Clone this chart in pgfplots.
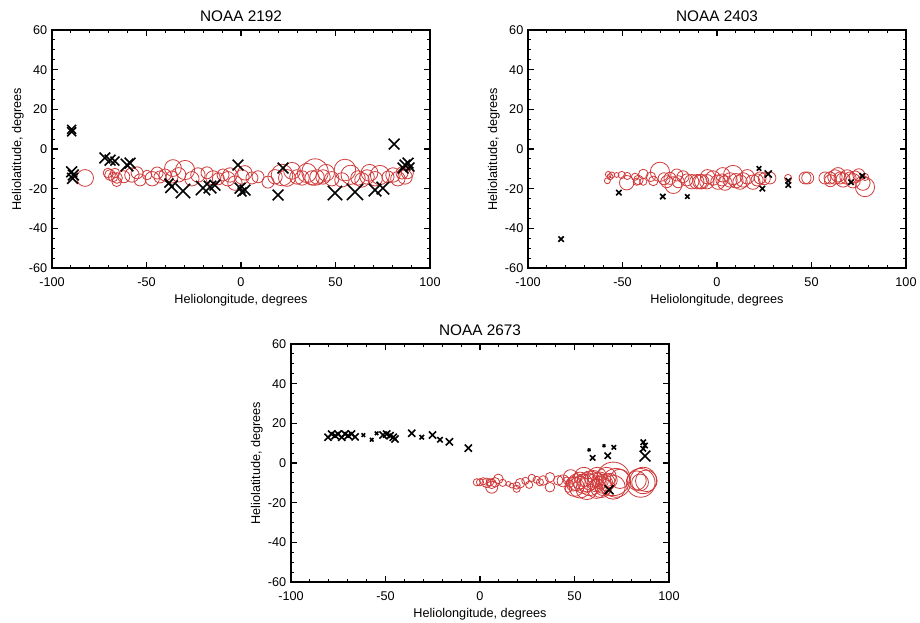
\documentclass[border=0pt]{standalone}
\usepackage{pgfplots}
\pgfplotsset{compat=1.18}
\usepackage{pgfplotstable}
\usepackage{fontspec}
\setmainfont{Liberation Sans}
\definecolor{circred}{RGB}{208,58,58}

% columns: heliolongitude, heliolatitude, marker half-size in px
\pgfplotstableread{
x y r
-82.5 -14.6 7
-69.3 -13.1 4.5
-67.7 -14.1 4
-65.6 -14.6 4.5
-66.7 -12.1 4
-70.4 -12.1 4
-65.8 -16.5 4
-62.0 -14.0 5
-57.7 -13.1 6
-55.0 -12.0 5
-53.4 -15.6 5
-49.7 -13.1 4
-47.0 -15.0 6
-44.4 -12.1 5
-42.9 -14.1 5
-40.2 -13.1 5
-36.0 -9.6 7
-29.6 -10.6 8
-36.5 -14.1 5
-33.0 -13.0 6
-26.0 -15.0 6
-22.8 -13.1 6
-18.0 -12.0 5
-14.8 -14.6 6
-12.0 -15.0 5
-9.5 -13.1 5
-7.0 -15.0 6
-5.8 -13.1 6
-3.2 -17.2 6
0.5 -14.1 6
2.0 -12.0 6
5.8 -14.6 5
9.0 -14.0 5
14.3 -16.7 5
18.0 -14.0 6
21.7 -13.1 9
24.3 -14.6 7
27.0 -11.0 7
29.6 -14.1 6
32.3 -14.6 6
34.9 -12.1 8
37.6 -14.6 6
39.2 -11.6 11
40.2 -14.1 6
43.4 -14.1 6
45.0 -12.0 7
48.0 -15.0 6
53.4 -15.6 6
55.0 -10.6 9
58.0 -13.0 8
61.9 -14.6 6
64.0 -15.6 6
66.7 -14.1 6
68.0 -12.0 7
71.0 -15.0 6
73.5 -13.1 8
77.8 -14.1 5
80.4 -13.1 6
83.0 -15.0 6
85.2 -12.1 5
86.8 -14.1 6
88.0 -12.0 5
}\circA
\pgfplotstableread{
x y r
-89.6 8.7 5
-89.6 9.9 5
-89.6 -11.5 6
-88.7 -13.1 6
-89.1 -14.8 6
-72.0 -4.5 6
-69.3 -5.6 6
-66.7 -6.1 5
-60.3 -8.1 7
-58.7 -7.1 6
-38.1 -17.2 5
-36.7 -19.0 7
-30.7 -21.2 8
-20.1 -19.7 8
-16.4 -19.2 7
-13.8 -18.2 6
-1.6 -8.1 6
-0.5 -19.7 6
2.1 -20.7 6
0.5 -21.7 5
22.2 -9.6 6
19.6 -23.2 6
49.7 -22.2 8
60.3 -21.7 9
70.9 -20.7 7
75.1 -19.7 7
81.0 2.5 6
86.8 -8.1 6
85.7 -9.6 6
88.4 -7.1 6
89.4 -9.1 5
}\crossA
\pgfplotstableread{
x y r
-57.5 -12.8 2.5
-56.6 -14.0 2.5
-55.7 -13.1 2.5
-58.0 -16.0 2.5
-53.1 -13.1 2
-50.4 -13.1 3
-47.5 -13.6 3
-43.4 -14.0 3
-41.6 -15.6 4
-42.5 -16.5 3
-47.8 -17.0 6
-39.0 -12.6 4
-39.0 -16.5 3
-35.0 -14.0 4
-33.7 -16.1 4
-30.2 -11.5 8
-28.0 -15.0 5
-26.6 -16.5 5
-24.9 -14.8 5
-21.3 -13.1 5
-20.5 -16.5 5
-23.1 -18.2 7
-18.0 -14.0 5
-16.0 -15.6 5
-13.4 -16.5 6
-10.7 -16.5 6
-9.0 -16.5 6
-8.1 -16.5 6
-5.4 -16.5 6
-5.0 -14.0 6
-2.1 -14.6 6
0.5 -16.7 6
2.6 -15.6 5
3.0 -13.0 6
4.2 -17.2 6
6.9 -15.6 6
8.5 -13.1 8
10.0 -16.0 6
12.2 -16.7 6
13.8 -15.6 6
16.0 -14.0 6
19.0 -16.7 6
21.2 -15.6 5
22.8 -14.6 5
25.0 -15.0 5
28.0 -14.6 5
37.6 -14.6 3
46.6 -14.6 5
48.0 -14.6 5
57.1 -14.6 5
59.8 -14.6 5
60.0 -16.0 5
62.4 -14.1 6
64.0 -13.0 6
65.1 -14.6 5
66.7 -15.6 6
68.8 -14.1 6
70.4 -14.6 5
72.0 -16.0 6
73.0 -14.1 5
75.0 -13.0 5
78.3 -14.1 3
78.3 -19.2 8
77.2 -17.2 6
}\circB
\pgfplotstableread{
x y r
-82.5 -45.4 3
-51.9 -22.0 3
-28.7 -24.0 3
-15.7 -24.0 2.5
22.2 -9.8 2.5
27.1 -12.6 4
24.0 -20.0 3
37.7 -16.0 3
37.7 -18.2 3
70.9 -16.8 3
76.9 -13.6 3
}\crossB
\pgfplotstableread{
x y r
-1.7 -9.7 3
0.0 -9.7 3
1.7 -9.2 3
3.5 -10.0 4
5.3 -9.7 3
6.2 -10.5 4
7.9 -9.7 4
9.7 -8.0 4
6.2 -12.2 5
12.0 -10.0 3
15.0 -10.5 2
16.8 -11.4 2
19.4 -11.4 3
21.2 -10.2 4
19.4 -13.0 3
24.0 -9.0 3
26.0 -11.0 3
27.4 -7.5 3
30.0 -8.5 3
31.7 -9.7 3
33.5 -8.8 4
37.0 -7.2 4
37.0 -12.2 4
41.4 -8.8 4
44.0 -9.0 5
45.9 -8.8 3
47.6 -10.5 3
48.0 -7.0 6
46.7 -13.0 3
49.4 -10.5 6
50.0 -12.0 8
51.2 -9.7 7
52.9 -8.8 7
54.7 -10.5 8
55.0 -7.0 8
56.5 -9.7 8
58.0 -11.0 9
58.2 -8.8 8
60.0 -8.0 7
61.7 -9.7 8
62.0 -7.0 8
63.5 -8.8 7
64.0 -12.0 9
65.2 -10.5 8
67.0 -9.7 7
67.0 -7.0 8
68.8 -8.8 6
52.9 -12.2 9
56.5 -13.0 9
61.7 -13.0 8
65.2 -12.2 7
70.5 -8.0 14
70.5 -12.2 10
72.0 -10.0 12
74.0 -8.0 8
82.9 -8.8 8
84.7 -9.8 7
85.0 -10.0 12
86.4 -8.8 11
88.0 -9.0 9
}\circC
\pgfplotstableread{
x y r
-80.4 13.0 4
-78.5 14.6 4
-76.7 13.8 4
-75.1 14.6 4
-73.2 13.0 4
-71.4 14.6 4
-69.8 13.8 4
-68.0 14.6 4
-66.1 13.2 4
-61.7 14.1 2
-57.3 11.7 2
-54.7 15.0 2
-51.3 14.1 4
-49.4 14.6 4
-47.6 13.8 4
-45.9 13.0 4
-45.0 12.1 4
-36.1 15.0 4
-30.8 13.0 2.5
-25.1 14.1 4
-21.2 11.7 3
-16.2 10.7 4
-6.2 7.5 4
57.7 6.6 1.5
59.6 2.6 3
65.6 8.7 1.5
67.6 3.7 3.5
70.8 7.9 2.5
86.4 10.5 3
87.3 8.8 3
86.4 7.2 3
87.3 3.5 6
68.3 -13.5 5
}\crossC

\pgfplotsset{
  noaa/.style={
    scale only axis, width=283.5pt, height=178.5pt,
    xmin=-100, xmax=100, ymin=-60, ymax=60,
    xtick={-100,-50,0,50,100}, xticklabels={-100,-50,0,50,100},
    ytick={-60,-40,-20,0,20,40,60}, yticklabels={-60,-40,-20,0,20,40,60},
    minor x tick num=4, minor y tick num=3,
    tick align=inside,
    major tick length=4.5pt, minor tick length=2.6pt,
    every tick/.style={black, line width=0.8pt},
    axis line style={line width=0.9pt},
    tick label style={font=\fontsize{9.5}{11}\selectfont},
    xticklabel style={yshift=-3.5pt},
    label style={font=\fontsize{9.5}{11}\selectfont},
    title style={font=\fontsize{11.5}{13}\selectfont, yshift=-3pt},
    xlabel={Heliolongitude, degrees},
    ylabel={Heliolatitude, degrees},
    xlabel style={yshift=1pt},
    ylabel style={yshift=-3pt},
    clip=false,
  },
  circs/.style={scatter, only marks, mark=o, line width=0.6pt,
    scatter/use mapped color={draw=circred, fill=none},
    visualization depends on={0.9*\thisrow{r} \as \ms},
    scatter/@pre marker code/.append style={/tikz/mark size=\ms}},
  crosses/.style={scatter, only marks, mark=x, line width=1.2pt,
    scatter/use mapped color={draw=black, fill=none},
    visualization depends on={0.95*\thisrow{r} \as \ms},
    scatter/@pre marker code/.append style={/tikz/mark size=\ms}},
}

\begin{document}
\begin{tikzpicture}
\useasboundingbox (0,0) rectangle (690pt,466.5pt);

\begin{axis}[noaa, at={(39pt,265.5pt)}, anchor=south west, title={NOAA 2192}]
\addplot[circs] table[x=x, y=y] {\circA};
\addplot[crosses] table[x=x, y=y] {\crossA};
\end{axis}

\begin{axis}[noaa, at={(396pt,265.5pt)}, anchor=south west, title={NOAA 2403}]
\addplot[circs] table[x=x, y=y] {\circB};
\addplot[crosses] table[x=x, y=y] {\crossB};
\end{axis}

\begin{axis}[noaa, at={(218.25pt,30pt)}, anchor=south west, title={NOAA 2673}]
\addplot[circs] table[x=x, y=y] {\circC};
\addplot[crosses] table[x=x, y=y] {\crossC};
\end{axis}
\end{tikzpicture}
\end{document}
